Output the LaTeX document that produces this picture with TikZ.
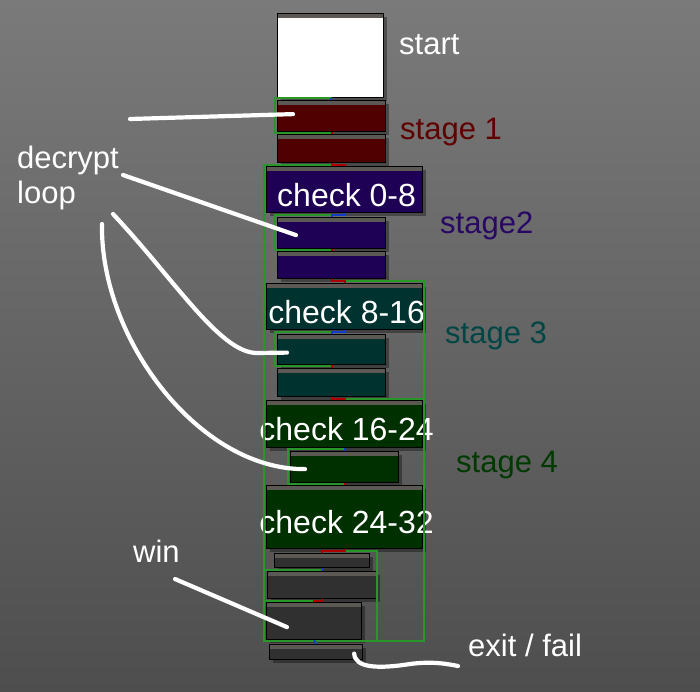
\documentclass[tikz,border=0pt]{standalone}
\usepackage{fontspec}
\setmainfont{Liberation Sans}
\usetikzlibrary{shadows}
\definecolor{bgtop}{RGB}{122,122,122}
\definecolor{bgbot}{RGB}{78,78,78}
\definecolor{sone}{RGB}{80,0,0}
\definecolor{stwo}{RGB}{30,0,84}
\definecolor{sthree}{RGB}{0,50,48}
\definecolor{sfour}{RGB}{0,48,0}
\definecolor{tail}{RGB}{48,48,48}
\definecolor{titlebar}{RGB}{92,88,84}
\definecolor{sonetxt}{RGB}{96,0,0}
\definecolor{stwotxt}{RGB}{40,8,100}
\definecolor{sthreetxt}{RGB}{0,70,68}
\definecolor{sfourtxt}{RGB}{0,58,0}
\definecolor{gedgec}{RGB}{40,150,40}
\definecolor{redgec}{RGB}{175,0,0}
\definecolor{bedgec}{RGB}{20,60,200}

\begin{document}
\begin{tikzpicture}[x=1pt, y=-1pt,
		blk/.style={draw=black, line width=1.2pt, inner sep=0pt, anchor=north west,
				drop shadow={shadow xshift=3pt, shadow yshift=-3pt, opacity=.35, fill=black},
				path picture={\fill[titlebar] (path picture bounding box.north west) rectangle ([yshift=-4pt]path picture bounding box.north east);}},
		chktxt/.style={inner sep=0pt, text=white, text height=33pt, text depth=0pt, font=\fontsize{32}{36}\selectfont},
		lbl/.style={inner sep=0pt, anchor=base west, font=\fontsize{31}{35}\selectfont},
		gedge/.style={draw=gedgec, line width=2pt},
		redge/.style={draw=redgec, line width=2pt},
		bedge/.style={draw=bedgec, line width=2pt},
		note/.style={draw=white, line width=4.2pt, line cap=round}
	]
	\useasboundingbox (0,0) rectangle (700,691);
	\shade[top color=bgtop, bottom color=bgbot] (0,0) rectangle (700,691);

	% basic blocks
	\foreach \n/\x/\y/\w/\h/\c in {start/277/13/106/84/white, s1a/277/100/108/31/sone, s1b/277/134/108/28/sone,
			s2a/277/217/108/31/stwo, s2b/277/251/108/27/stwo, s3a/277/334/108/30/sthree, s3b/277/368/108/28/sthree,
			s4a/290/451/108/31/sfour, w1/274/553/95/14/tail, w2/267/571/109/27/tail, win/266/602/95/37/tail, exit/269/644/93/15/tail} {
			\node[blk, fill=\c, minimum width=\w pt, minimum height=\h pt] (\n) at (\x,\y) {};
		}
	\foreach \n/\y/\h/\c/\t in {chk1/166/46/stwo/check 0-8, chk2/283/46/sthree/check 8-16,
			chk3/400/47/sfour/check 16-24, chk4/485/63/sfour/check 24-32} {
			\node[blk, fill=\c, minimum width=156pt, minimum height=\h pt] (\n) at (266,\y) {};
			\node[chktxt] (\n t) at ([xshift=2pt]\n.center) {\t};
		}

	% edges to exit
	\foreach \a/\x in {s1b/264, w1/264, w2/264, s2b/424, s3b/424, chk4/377}
		\draw[gedge] (\a.south) -- ++(0,2) -| (\x,641) -| (exit.north);
	% decrypt loops
	\foreach \b in {s1a,s2a,s3a,s4a}
		\draw[gedge] ([yshift=-1pt]\b.south) -| ([xshift=-2pt]\b.west) |- ([yshift=2pt]\b.north);
	\foreach \a/\b/\c in {start/s1a/bedge, s1a/s1b/redge, s2a/s2b/redge, s3a/s3b/redge, chk3/s4a/bedge,
			s4a/chk4/redge, w1/w2/bedge, win/exit/bedge}
		\draw[\c] (\a.south) -- (\b.north);
	\foreach \a/\b/\c in {s1b/chk1/redge, s2b/chk2/redge, s3b/chk3/redge, chk1/s2a/bedge, chk2/s3a/bedge,
			chk4/w1/redge, w2/win/redge}
		\draw[\c] (\a.south) -- ++(0,2) -| (\b.north);

	% labels
	\node[lbl, text=white] (st) at (399,54) {start};
	\node[lbl, text=sonetxt] (l1) at (400,139) {stage 1};
	\node[lbl, text=stwotxt] (l2) at (440,233) {stage2};
	\node[lbl, text=sthreetxt] (l3) at (445,343) {stage 3};
	\node[lbl, text=sfourtxt] (l4) at (456,472) {stage 4};
	\node[lbl, text=white, anchor=north west, align=left] (dl) at (17,146) {decrypt\\loop};
	\node[lbl, text=white] (wn) at (133,562) {win};
	\node[lbl, text=white] (ef) at (468,656) {exit / fail};

	% hand drawn pointers
	\coordinate (dl1) at (130,119);
	\coordinate (dl2) at (123,175);
	\coordinate (dl3) at (113,214);
	\coordinate (dl4) at (102,224);
	\coordinate (wn1) at (175,579);
	\coordinate (ef1) at (458,666);
	\draw[note] (dl1) -- ([xshift=16pt, yshift=2pt]s1a.west);
	\draw[note] (dl2) -- ([xshift=19pt, yshift=-2pt]s2a.west);
	\draw[note] (dl3) .. controls (175,280) and (220,353) .. (257,353) -- ([xshift=10pt, yshift=-3pt]s3a.west);
	\draw[note] (dl4) .. controls (100,340) and (200,470) .. ([xshift=15pt, yshift=-2pt]s4a.west);
	\draw[note] (wn1) -- ([xshift=21pt, yshift=-6pt]win.west);
	\draw[note] ([xshift=-9pt, yshift=-1.5pt]exit.east) .. controls (355,668) and (378,669) .. (410,664) .. controls (432,661) and (448,664) .. (ef1);
\end{tikzpicture}
\end{document}
